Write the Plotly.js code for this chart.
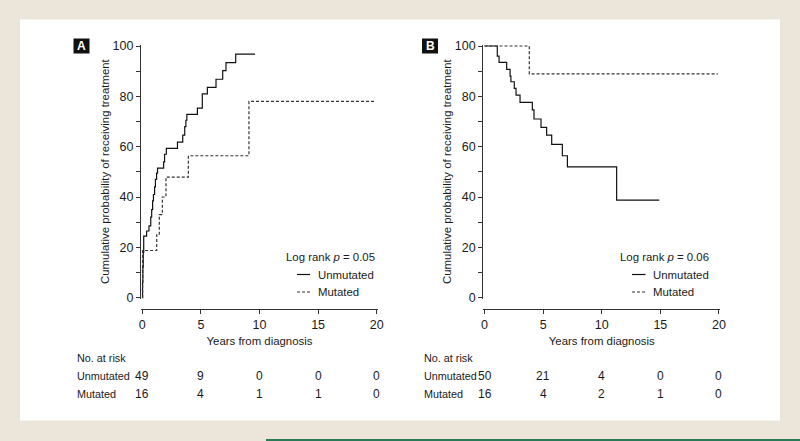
<!DOCTYPE html>
<html>
<head>
<meta charset="utf-8">
<script src="https://cdn.plot.ly/plotly-3.0.1.min.js"></script>
<style>
  html, body { margin: 0; padding: 0; background: #ece5da; }
  #chart { width: 800px; height: 441px; }
</style>
</head>
<body>
<div id="chart"></div>
<script>
// ---------- Data ----------
// Panel A: cumulative probability of receiving treatment (%)
const timesA_unmut = [0, 0.02, 0.05, 0.08, 0.12, 0.37, 0.57, 0.72, 0.80, 0.88, 0.95, 1.05, 1.12, 1.22, 1.30, 1.82, 1.90, 2.05, 3.00, 3.45, 3.62, 3.72, 3.80, 4.70, 5.12, 5.55, 6.29, 6.86, 7.14, 7.97, 9.62];
const probA_unmut  = [0, 6, 12, 18, 24.5, 26.5, 28.5, 32, 35, 38.5, 41, 44, 47, 49.5, 51.5, 54, 57, 59.3, 61.8, 64.6, 68, 70.5, 72.8, 75.3, 81, 83.6, 86.8, 90.2, 93.4, 96.8, 96.8];
const timesA_mut   = [0, 0.03, 1.23, 1.45, 1.71, 2.02, 3.93, 9.10, 19.85];
const probA_mut    = [0, 18.75, 25, 33, 40, 47.9, 56.4, 78, 78];

// Panel B
const timesB_unmut = [0, 1.09, 1.24, 1.89, 2.18, 2.25, 2.54, 2.69, 3.03, 4.08, 4.22, 4.82, 5.30, 5.73, 6.64, 7.07, 11.27, 14.91];
const probB_unmut  = [100, 96, 93.5, 90.7, 88, 85.8, 83.2, 80.5, 77.6, 74.6, 71, 67.7, 64.6, 60.9, 56.4, 52, 38.8, 38.8];
const timesB_mut   = [0, 3.82, 19.9];
const probB_mut    = [100, 88.9, 88.9];

// Numbers at risk
const riskTimes      = [0, 5, 10, 15, 20];
const riskA_unmut    = [49, 9, 0, 0, 0];
const riskA_mut      = [16, 4, 1, 1, 0];
const riskB_unmut    = [50, 21, 4, 0, 0];
const riskB_mut      = [16, 4, 2, 1, 0];

const pValueA = "0.05";
const pValueB = "0.06";
const groupNames = ["Unmutated", "Mutated"];
const panelLabels = ["A", "B"];

// ---------- Styling ----------
const W = 800, H = 441;
const px = x => x / W;
const py = y => 1 - y / H;
const TXT = "'Liberation Sans', Arial, Helvetica, sans-serif";
const TXT_SIZE = 11.4;
const INK = "#1a1a1a";
const AX = "#333333";

const solid = { color: "#111111", width: 1.2, shape: "hv" };
const dashed = { color: "#333333", width: 1.2, shape: "hv", dash: "3px,2px" };

const traces = [
  { x: timesA_unmut, y: probA_unmut, xaxis: "x", yaxis: "y", mode: "lines", line: solid, name: groupNames[0], hoverinfo: "skip" },
  { x: timesA_mut, y: probA_mut, xaxis: "x", yaxis: "y", mode: "lines", line: dashed, name: groupNames[1], hoverinfo: "skip" },
  { x: timesB_unmut, y: probB_unmut, xaxis: "x2", yaxis: "y2", mode: "lines", line: solid, name: groupNames[0], hoverinfo: "skip" },
  { x: timesB_mut, y: probB_mut, xaxis: "x2", yaxis: "y2", mode: "lines", line: dashed, name: groupNames[1], hoverinfo: "skip" }
];

const yDomain = [py(298.7), py(44.5)];
const xPos = py(309);

function xAxis(domain) {
  return {
    domain: domain, range: [-0.12, 20.12], anchor: "free", position: xPos,
    showline: true, linecolor: AX, linewidth: 1,
    ticks: "outside", ticklen: 4, tickwidth: 1, tickcolor: AX,
    tick0: 0, dtick: 5, showgrid: false, zeroline: false,
    tickfont: { family: TXT, size: 12.5, color: INK },
    title: { text: "Years from diagnosis", font: { family: TXT, size: TXT_SIZE, color: INK }, standoff: 6 },
    fixedrange: true
  };
}
function yAxis(anchorX) {
  return {
    domain: yDomain, range: [-0.4, 100.6], anchor: anchorX,
    showline: true, linecolor: AX, linewidth: 1,
    ticks: "outside", ticklen: 4, tickwidth: 1, tickcolor: AX,
    tick0: 0, dtick: 20, showgrid: false, zeroline: false,
    minor: { dtick: 10, tick0: 0, ticks: "outside", ticklen: 4, tickwidth: 1, tickcolor: AX, showgrid: false },
    tickfont: { family: TXT, size: 12.5, color: INK },
    title: { text: "Cumulative probability of receiving treatment", font: { family: TXT, size: TXT_SIZE, color: INK }, standoff: 0 },
    fixedrange: true
  };
}

const shapes = [
  // white panel
  { type: "rect", xref: "paper", yref: "paper", x0: px(20), x1: px(780), y0: py(420.5), y1: py(19.5), fillcolor: "#ffffff", line: { width: 0 }, layer: "below" },
  // green rule bottom right
  { type: "line", xref: "paper", yref: "paper", x0: px(266), x1: px(800), y0: py(440), y1: py(440), line: { color: "#2b7a57", width: 2 } },
  // panel label boxes
  { type: "rect", xref: "paper", yref: "paper", x0: px(73.5), x1: px(89.5), y0: py(53.5), y1: py(38.5), fillcolor: "#111111", line: { width: 0 } },
  { type: "rect", xref: "paper", yref: "paper", x0: px(422), x1: px(438), y0: py(53.5), y1: py(38.5), fillcolor: "#111111", line: { width: 0 } },
  // legend samples A
  { type: "line", xref: "paper", yref: "paper", x0: px(297), x1: px(310), y0: py(274.5), y1: py(274.5), line: { color: "#111111", width: 1.2 } },
  { type: "line", xref: "paper", yref: "paper", x0: px(297), x1: px(310), y0: py(292), y1: py(292), line: { color: "#333333", width: 1.2, dash: "3px,2px" } },
  // legend samples B
  { type: "line", xref: "paper", yref: "paper", x0: px(632), x1: px(645.5), y0: py(274.5), y1: py(274.5), line: { color: "#111111", width: 1.2 } },
  { type: "line", xref: "paper", yref: "paper", x0: px(632), x1: px(645.5), y0: py(292), y1: py(292), line: { color: "#333333", width: 1.2, dash: "3px,2px" } }
];

const annotations = [];
function txt(text, x, y, xanchor, opts) {
  annotations.push(Object.assign({
    text: text, xref: "paper", yref: "paper", x: x, y: y,
    xanchor: xanchor, yanchor: "middle", showarrow: false,
    font: { family: TXT, size: TXT_SIZE, color: INK }
  }, opts || {}));
}
// panel letters
txt("<b>" + panelLabels[0] + "</b>", px(81.5), py(46), "center", { font: { family: TXT, size: 12, color: "#ffffff" } });
txt("<b>" + panelLabels[1] + "</b>", px(430), py(46), "center", { font: { family: TXT, size: 12, color: "#ffffff" } });
// legends
txt("Log rank <i>p</i> = " + pValueA, px(376.5), py(257), "right");
txt(groupNames[0], px(316), py(274.5), "left");
txt(groupNames[1], px(316), py(292), "left");
txt("Log rank <i>p</i> = " + pValueB, px(710.5), py(257), "right");
txt(groupNames[0], px(650.5), py(274.5), "left");
txt(groupNames[1], px(650.5), py(292), "left");
// risk tables
const tableRows = [358, 376, 394];
const labelFont = { family: TXT, size: 10.8, color: INK };
function riskTable(xLeft, xref, rowU, rowM) {
  txt("No. at risk", px(xLeft), py(tableRows[0]), "left", { font: labelFont });
  txt(groupNames[0], px(xLeft), py(tableRows[1]), "left", { font: labelFont });
  txt(groupNames[1], px(xLeft), py(tableRows[2]), "left", { font: labelFont });
  riskTimes.forEach((t, i) => {
    annotations.push({ text: String(rowU[i]), xref: xref, yref: "paper", x: t, y: py(tableRows[1]), xanchor: "center", yanchor: "middle", showarrow: false, font: { family: TXT, size: 12, color: INK } });
    annotations.push({ text: String(rowM[i]), xref: xref, yref: "paper", x: t, y: py(tableRows[2]), xanchor: "center", yanchor: "middle", showarrow: false, font: { family: TXT, size: 12, color: INK } });
  });
}
riskTable(74.5, "x", riskA_unmut, riskA_mut);
riskTable(421.5, "x2", riskB_unmut, riskB_mut);

const layout = {
  width: W, height: H,
  margin: { l: 0, r: 0, t: 0, b: 0, pad: 0 },
  paper_bgcolor: "#ece5da",
  plot_bgcolor: "rgba(0,0,0,0)",
  showlegend: false,
  font: { family: TXT, color: INK },
  xaxis: xAxis([px(140.9), px(378.1)]),
  yaxis: yAxis("x"),
  xaxis2: xAxis([px(483.1), px(720.4)]),
  yaxis2: yAxis("x2"),
  shapes: shapes,
  annotations: annotations
};

Plotly.newPlot("chart", traces, layout, { staticPlot: true, displayModeBar: false });
</script>
</body>
</html>
